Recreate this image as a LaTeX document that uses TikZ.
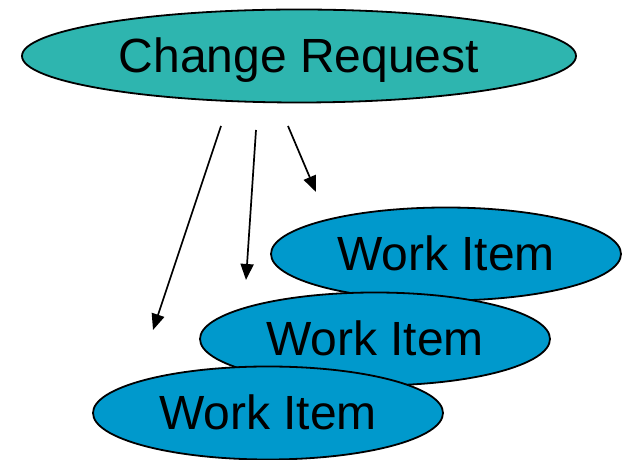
\documentclass[tikz,border=0pt]{standalone}
\usepackage{xcolor}
\usepackage{tikz}
\usepackage{fontspec}
\setmainfont{Liberation Sans}
\usetikzlibrary{arrows.meta,shapes.geometric}
\definecolor{crTeal}{RGB}{46, 181, 175}
\definecolor{wiBlue}{RGB}{0,  153, 204}

\begin{document}
\begin{tikzpicture}[x=1pt,y=1pt,
    bolha/.style={ellipse,draw=black,line width=1.8pt,inner sep=0pt,
                  font=\fontsize{48}{58}\selectfont,text depth=2pt},
    seta/.style={-{Triangle[length=16pt,width=13pt]},line width=1.7pt}]
        \useasboundingbox (0,0) rectangle (622,460);
        % Pedido
        \node[bolha,fill=crTeal,minimum width=554pt,minimum height=93pt]
          (cr) at (299,404){Change Request};

        % Itens (de tras para frente)
        \foreach \nome/\x/\y in {wi1/446/206, wi2/375/121, wi3/268/47}{
          \node[bolha,fill=wiBlue,minimum width=350pt,minimum height=93pt]
            (\nome) at (\x,\y){Work Item};
        }

        % Pontas das setas
        \coordinate (s1) at (221,334);
        \coordinate (e1) at (153,130);
        \coordinate (s2) at (256,330);
        \coordinate (e2) at (246,180);
        \coordinate (s3) at (288,334);
        \coordinate (e3) at (316,268);

        % Setas
        \draw[seta] (s1)--(e1);
        \draw[seta] (s2)--(e2);
        \draw[seta] (s3)--(e3);
      \end{tikzpicture}
\end{document}
